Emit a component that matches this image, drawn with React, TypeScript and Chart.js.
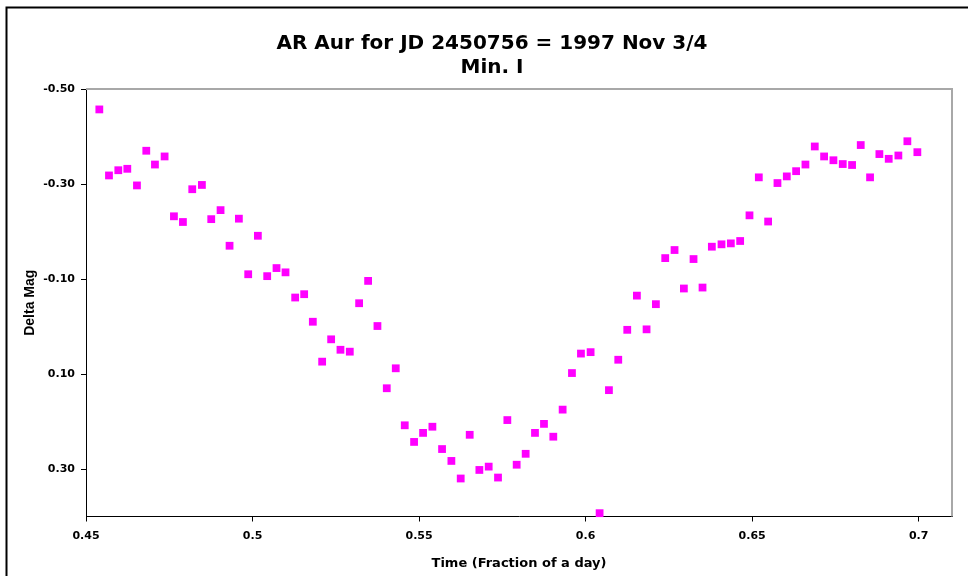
import React, { useEffect, useRef } from "react";
import { Chart, registerables } from "chart.js";

Chart.register(...registerables);

const TITLE = ["AR Aur for JD 2450756 = 1997 Nov 3/4", "Min. I"];
const X_LABEL = "Time (Fraction of a day)";
const Y_LABEL = "Delta Mag";
const X_TICKS = [0.45, 0.5, 0.55, 0.6, 0.65, 0.7];
const Y_TICKS = [-0.5, -0.3, -0.1, 0.1, 0.3];
const X_MIN = 0.45;
const X_MAX = 0.71;
const Y_MIN = -0.5;
const Y_MAX = 0.4;

const TIME = [
  0.4540, 0.4569, 0.4597, 0.4624, 0.4653, 0.4681, 0.4707, 0.4736, 0.4764, 0.4791,
  0.4819, 0.4848, 0.4876, 0.4904, 0.4931, 0.4959, 0.4987, 0.5016, 0.5044, 0.5072,
  0.5099, 0.5128, 0.5155, 0.5181, 0.5209, 0.5236, 0.5264, 0.5292, 0.5320, 0.5347,
  0.5375, 0.5403, 0.5430, 0.5457, 0.5485, 0.5512, 0.5540, 0.5569, 0.5597, 0.5625,
  0.5652, 0.5681, 0.5709, 0.5737, 0.5765, 0.5793, 0.5820, 0.5848, 0.5875, 0.5903,
  0.5931, 0.5959, 0.5986, 0.6015, 0.6042, 0.6070, 0.6098, 0.6125, 0.6154, 0.6183,
  0.6211, 0.6239, 0.6267, 0.6295, 0.6324, 0.6351, 0.6379, 0.6408, 0.6436, 0.6464,
  0.6492, 0.6520, 0.6548, 0.6576, 0.6604, 0.6632, 0.6660, 0.6688, 0.6716, 0.6744,
  0.6772, 0.6800, 0.6826, 0.6854, 0.6882, 0.6910, 0.6939, 0.6966, 0.6996,
];

const DELTA_MAG = [
  -0.457, -0.318, -0.329, -0.332, -0.297, -0.370, -0.341, -0.358, -0.232, -0.220,
  -0.289, -0.298, -0.226, -0.245, -0.170, -0.227, -0.110, -0.191, -0.106, -0.123,
  -0.114, -0.061, -0.068, -0.010, 0.074, 0.027, 0.049, 0.053, -0.049, -0.096,
  -0.001, 0.130, 0.088, 0.208, 0.243, 0.224, 0.211, 0.258, 0.283, 0.320,
  0.228, 0.302, 0.295, 0.318, 0.197, 0.291, 0.268, 0.224, 0.205, 0.232,
  0.175, 0.098, 0.057, 0.054, 0.393, 0.134, 0.070, 0.007, -0.065, 0.006,
  -0.047, -0.144, -0.161, -0.080, -0.142, -0.082, -0.168, -0.173, -0.175, -0.180,
  -0.234, -0.314, -0.221, -0.302, -0.316, -0.327, -0.341, -0.379, -0.358, -0.350,
  -0.342, -0.340, -0.382, -0.314, -0.363, -0.353, -0.360, -0.390, -0.367,
];

const FONT = "'DejaVu Sans', 'Liberation Sans', Arial, sans-serif";
const FONT_NARROW = "'Liberation Sans', Arial, sans-serif";

const framePlugin = {
  id: "frame",
  beforeDraw(chart: any) {
    const ctx = chart.ctx;
    ctx.save();
    ctx.fillStyle = "#ffffff";
    ctx.fillRect(0, 0, chart.width, chart.height);
    ctx.strokeStyle = "#000000";
    ctx.lineWidth = 2;
    ctx.beginPath();
    ctx.moveTo(6.5, chart.height);
    ctx.lineTo(6.5, 7.5);
    ctx.lineTo(chart.width, 7.5);
    ctx.stroke();
    ctx.restore();
  },
  beforeDatasetsDraw(chart: any) {
    const { left, top, right, bottom } = chart.chartArea;
    const ctx = chart.ctx;
    ctx.save();
    ctx.strokeStyle = "#a8a8a8";
    ctx.lineWidth = 2;
    ctx.beginPath();
    ctx.moveTo(left, top);
    ctx.lineTo(right, top);
    ctx.lineTo(right, bottom);
    ctx.stroke();
    ctx.restore();
  },
};

export default function App() {
  const canvasRef = useRef<HTMLCanvasElement | null>(null);

  useEffect(() => {
    if (!canvasRef.current) return;
    Chart.defaults.font.family = FONT;
    const points = TIME.map((t, i) => ({ x: t, y: DELTA_MAG[i] }));
    const chart = new Chart(canvasRef.current, {
      type: "scatter",
      data: {
        datasets: [
          {
            label: "Delta Mag",
            data: points,
            pointStyle: "rect",
            pointRadius: 5.5,
            pointHoverRadius: 5.5,
            backgroundColor: "#ff00ff",
            borderColor: "#ff00ff",
            borderWidth: 0,
            clip: false as any,
          },
        ],
      },
      options: {
        animation: false,
        responsive: true,
        maintainAspectRatio: false,
        devicePixelRatio: 1,
        layout: { padding: { left: 32, right: 16, top: 0, bottom: 0 } },
        plugins: {
          legend: { display: false },
          tooltip: { enabled: false },
          title: {
            display: true,
            text: TITLE,
            color: "#000000",
            font: { size: 20, weight: "bold", lineHeight: 1.2 },
            padding: { top: 32, bottom: 9 },
          },
        },
        scales: {
          x: {
            type: "linear",
            min: X_MIN,
            max: X_MAX,
            afterBuildTicks: (s: any) => {
              s.ticks = X_TICKS.map((v) => ({ value: v }));
            },
            afterFit: (s: any) => {
              s.height = 59.5;
            },
            grid: {
              drawOnChartArea: false,
              drawTicks: true,
              tickLength: 5,
              color: "#000000",
              lineWidth: 1,
            },
            border: { display: true, color: "#000000", width: 1 },
            ticks: {
              padding: 8.5,
              color: "#000000",
              maxRotation: 0,
              font: { size: 11, weight: "bold" },
              callback: (v: any) => String(Number(Number(v).toFixed(2))),
            },
            title: {
              display: true,
              text: X_LABEL,
              color: "#000000",
              font: { size: 13, weight: "bold", lineHeight: 1.2 },
              padding: { top: 0, bottom: 5 },
            },
          },
          y: {
            type: "linear",
            reverse: true,
            min: Y_MIN,
            max: Y_MAX,
            afterBuildTicks: (s: any) => {
              s.ticks = Y_TICKS.map((v) => ({ value: v }));
            },
            afterFit: (s: any) => {
              s.width = 54;
            },
            grid: {
              drawOnChartArea: false,
              drawTicks: true,
              tickLength: 5,
              color: "#000000",
              lineWidth: 1,
            },
            border: { display: true, color: "#000000", width: 1 },
            ticks: {
              padding: 6,
              color: "#000000",
              font: { size: 11, weight: "bold" },
              callback: (v: any) => Number(v).toFixed(2),
            },
            title: {
              display: true,
              text: Y_LABEL,
              color: "#000000",
              font: { family: FONT_NARROW, size: 14, weight: "bold", lineHeight: 1.2 },
              padding: { top: -10.4, bottom: 0 },
            },
          },
        },
      },
      plugins: [framePlugin],
    });
    return () => chart.destroy();
  }, []);

  return (
    <div style={{ position: "absolute", left: 0, top: 0, width: 968, height: 576, background: "#fff" }}>
      <canvas ref={canvasRef} />
    </div>
  );
}
